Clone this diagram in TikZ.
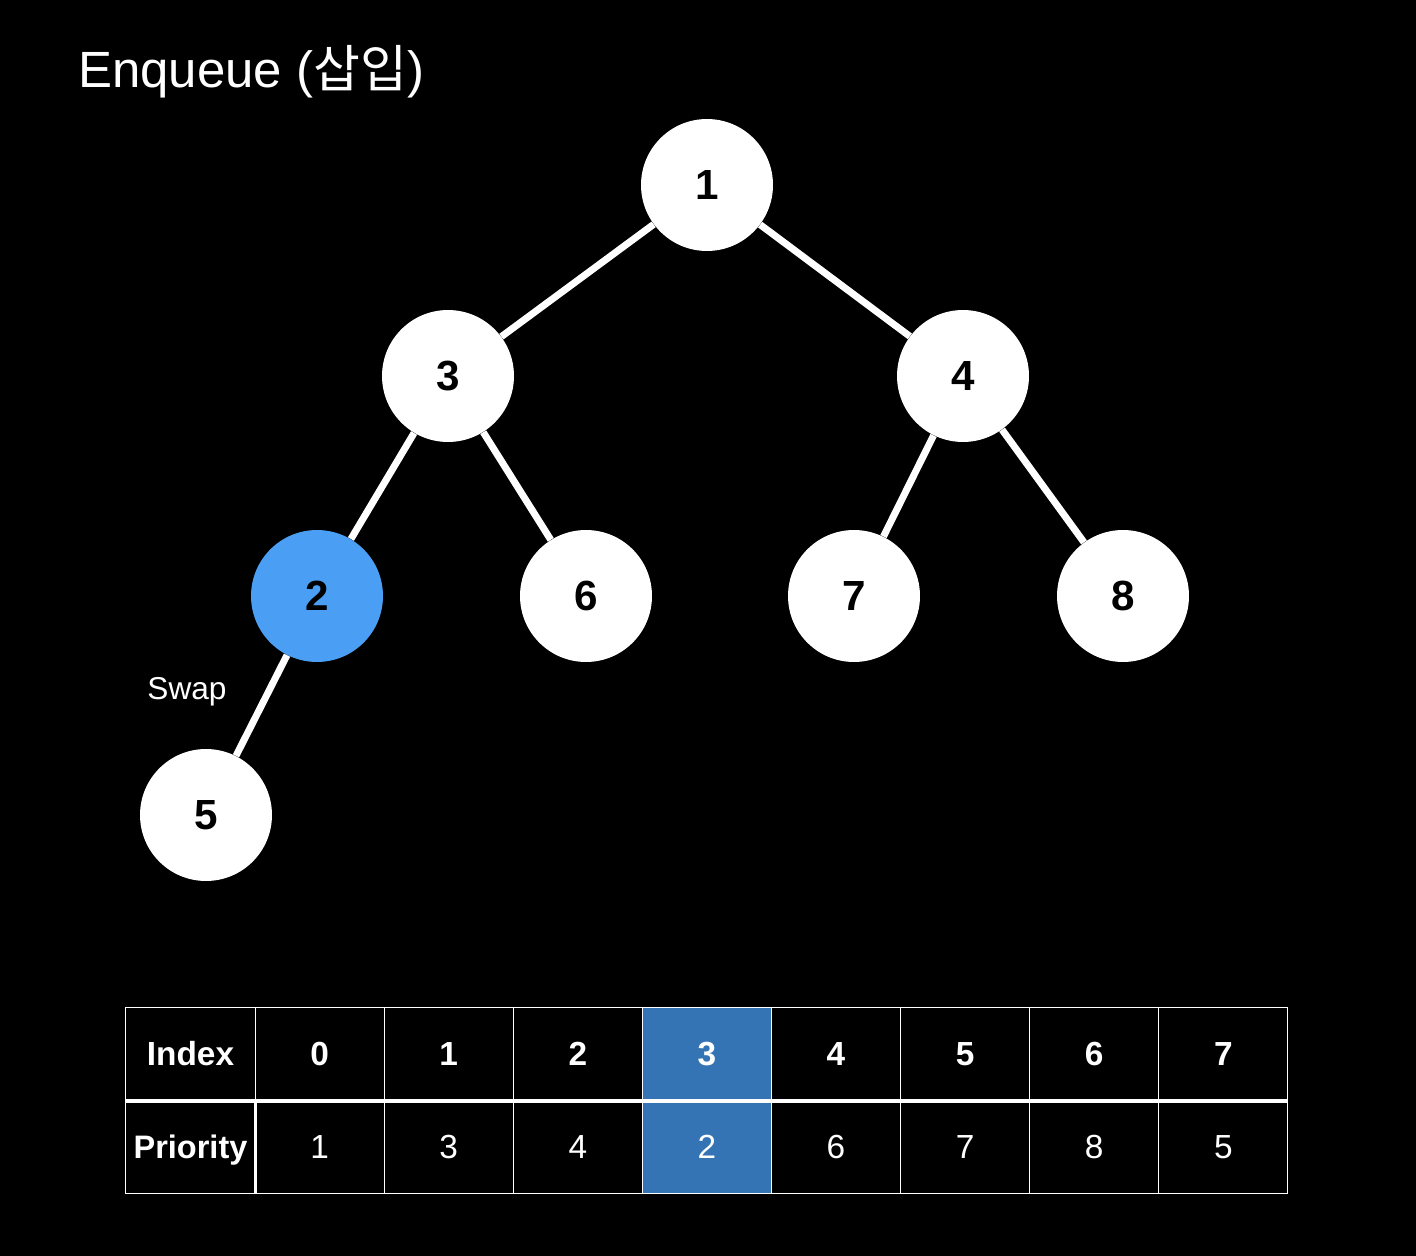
\documentclass[tikz,border=0pt]{standalone}
\usepackage{fontspec}
\setmainfont{Liberation Sans}
\newfontfamily\kor{Noto Sans CJK KR}
\usetikzlibrary{positioning,calc}
\definecolor{heapblue}{HTML}{4A9FF5}
\definecolor{cellblue}{HTML}{3474B4}
\tikzset{
  heapnode/.style={circle,fill=white,minimum size=2.64cm,inner sep=0pt,text=black,
    font=\fontsize{24}{24}\selectfont\bfseries},
  heapedge/.style={white,line width=0.14cm},
  cell/.style={draw=white,line width=0.6pt,minimum width=2.582cm,minimum height=1.86cm,
    inner sep=0pt,text=white,text height=13.6pt,text depth=0pt,font=\fontsize{19}{19}\selectfont},
}
\begin{document}
\begin{tikzpicture}[x=0.02cm,y=-0.02cm]
    \fill[black] (0,0) rectangle (1416,1256);
    \useasboundingbox (0,0) rectangle (1416,1256);
    \node[anchor=base west,text=white,inner sep=0pt,font=\fontsize{29}{29}\selectfont] (title) at (78,88) {Enqueue ({\kor 삽입})};
    % heap
    \node[heapnode] (n1) at (707,185) {1};
    \node[heapnode] (n3) at (448,376) {3};
    \node[heapnode] (n4) at (963,376) {4};
    \node[heapnode,fill=heapblue] (n2) at (317,596) {2};
    \node[heapnode] (n6) at (586,596) {6};
    \node[heapnode] (n7) at (854,596) {7};
    \node[heapnode] (n8) at (1123,596) {8};
    \node[heapnode] (n5) at (206,815) {5};
    \draw[heapedge] (n1) -- (n3);
    \draw[heapedge] (n1) -- (n4);
    \draw[heapedge] (n3) -- (n2);
    \draw[heapedge] (n3) -- (n6);
    \draw[heapedge] (n4) -- (n7);
    \draw[heapedge] (n4) -- (n8);
    \draw[heapedge] (n2) -- (n5);
    \node[text=white,font=\fontsize{18}{18}\selectfont] (swap) at (187,692) {Swap};
    % table
    \node[cell,font=\fontsize{19}{19}\selectfont\bfseries] (idx) at (190.5,1054) {Index};
    \node[cell,font=\fontsize{18.5}{18.5}\selectfont\bfseries] (pri) at (190.5,1147) {Priority};
    \foreach \v [count=\c] in {1,3,4,2,6,7,8,5}{
      \pgfmathtruncatemacro{\ii}{\c-1}
      \ifnum\c=4 \def\cfill{cellblue}\else \def\cfill{black}\fi
      \node[cell,fill=\cfill,font=\fontsize{19}{19}\selectfont\bfseries] (i\c) at ({190.5+129.1*\c},1054) {\ii};
      \node[cell,fill=\cfill] (p\c) at ({190.5+129.1*\c},1147) {\v};
    }
    \draw[white,line width=1.8pt] (idx.south west) -- (i8.south east);
    \draw[white,line width=1.8pt] (pri.north east) -- (pri.south east);
\end{tikzpicture}
\end{document}
